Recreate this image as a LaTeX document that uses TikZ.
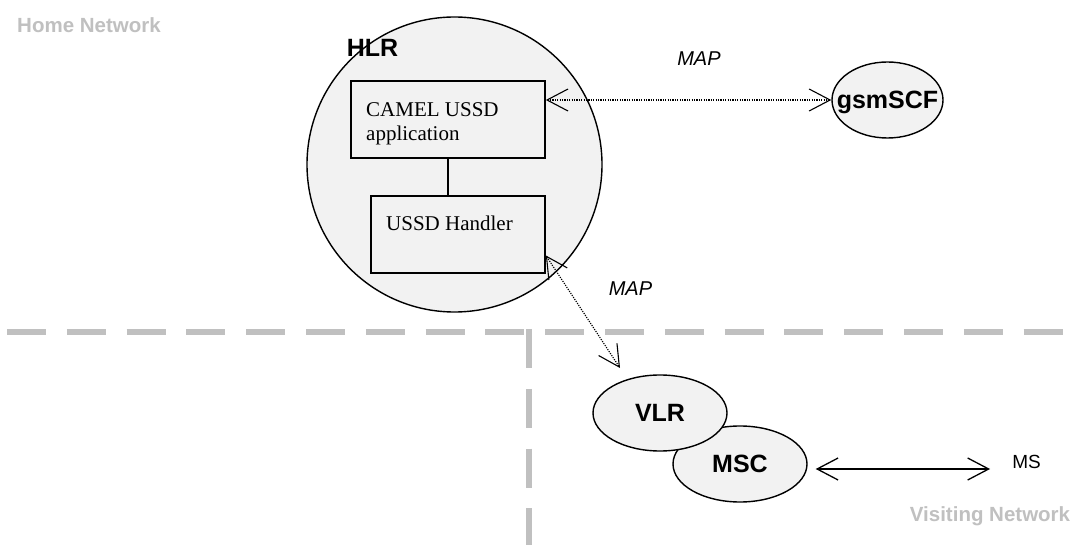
\documentclass[tikz,border=0pt]{standalone}
\usepackage{fontspec}
\setmainfont{Liberation Sans}
\newfontfamily\timesfont{Liberation Serif}
\usetikzlibrary{shapes.geometric,arrows.meta,calc}
\definecolor{fillgray}{HTML}{F2F2F2}
\definecolor{netgray}{HTML}{C0C0C0}
\begin{document}
\begin{tikzpicture}[x=1pt,y=-1pt,
  netline/.style={draw=netgray, line width=5.5pt, dash pattern=on 39pt off 20.8pt},
  netlabel/.style={text=netgray, font=\fontsize{20.5}{24}\selectfont\bfseries, inner sep=0},
  hlrcircle/.style={circle, draw=black, fill=fillgray, line width=1.4pt, minimum size=295pt, inner sep=0},
  appbox/.style={rectangle, draw=black, fill=fillgray, line width=1.7pt, inner sep=0},
  boxtext/.style={font=\timesfont\fontsize{21}{24}\selectfont, inner sep=0, anchor=base west},
  ell/.style={ellipse, draw=black, fill=fillgray, line width=1.4pt, minimum width=134pt, minimum height=76pt, inner sep=0, font=\fontsize{25}{30}\selectfont\bfseries, text depth=0pt},
  biglabel/.style={font=\fontsize{25}{30}\selectfont\bfseries, inner sep=0},
  maplabel/.style={font=\fontsize{20}{24}\selectfont\itshape, inner sep=0},
  tip/.tip={Straight Barb[length=21pt,width=22pt]},
  maparrow/.style={tip-tip, dash pattern=on 1.2pt off 1.2pt, line width=1.1pt},
  msarrow/.style={tip-tip, line width=1.3pt}
]
\fill[white] (0,0) rectangle (1077,545);
\useasboundingbox (0,0) rectangle (1077,545);

% network boundaries
\draw[netline] (7,332) -- (1077,332);
\draw[netline] (529,329) -- (529,545);
\node[netlabel] (home) at (89,25.5) {Home Network};
\node[netlabel] (visit) at (990,516.5) {Visiting Network};

% HLR
\node[hlrcircle] (hlr) at (454.5,164.5) {};
\node[biglabel] (hlrlabel) at (372.5,48) {HLR};
\node[appbox, minimum width=194pt, minimum height=77pt] (camel) at (448,119.5) {};
\node[boxtext] (camelT) at (366,117) {CAMEL USSD};
\node[boxtext] (camelT2) at (366,141) {application};
\node[appbox, minimum width=174pt, minimum height=77pt] (handler) at (458,234.5) {};
\node[boxtext] (handlerT) at (386,231) {USSD Handler};
\draw[line width=1.7pt] (camel.south) -- (handler.north -| camel.south);

% other entities
\node[ell, minimum width=111pt] (gsm) at (887.5,100) {\makebox[0pt]{gsmSCF}};
\node[ell] (msc) at (740,464) {MSC};
\node[ell] (vlr) at (660,413) {VLR};
\node[font=\fontsize{19}{22}\selectfont, inner sep=0] (ms) at (1026.5,461.5) {MS};

% connectors
\draw[maparrow] (camel.east |- gsm.west) -- (gsm.west);
\node[maplabel] (map1) at (699,59) {MAP};
\draw[maparrow] ($(handler.north east)!0.766!(handler.south east)$) -- ($(vlr.center)+(-40,-45)$);
\node[maplabel] (map2) at (630.5,288.5) {MAP};
\draw[msarrow] ($(msc.east)+(8,5)$) -- ($(ms.west)+(-22,7.5)$);
\end{tikzpicture}
\end{document}
